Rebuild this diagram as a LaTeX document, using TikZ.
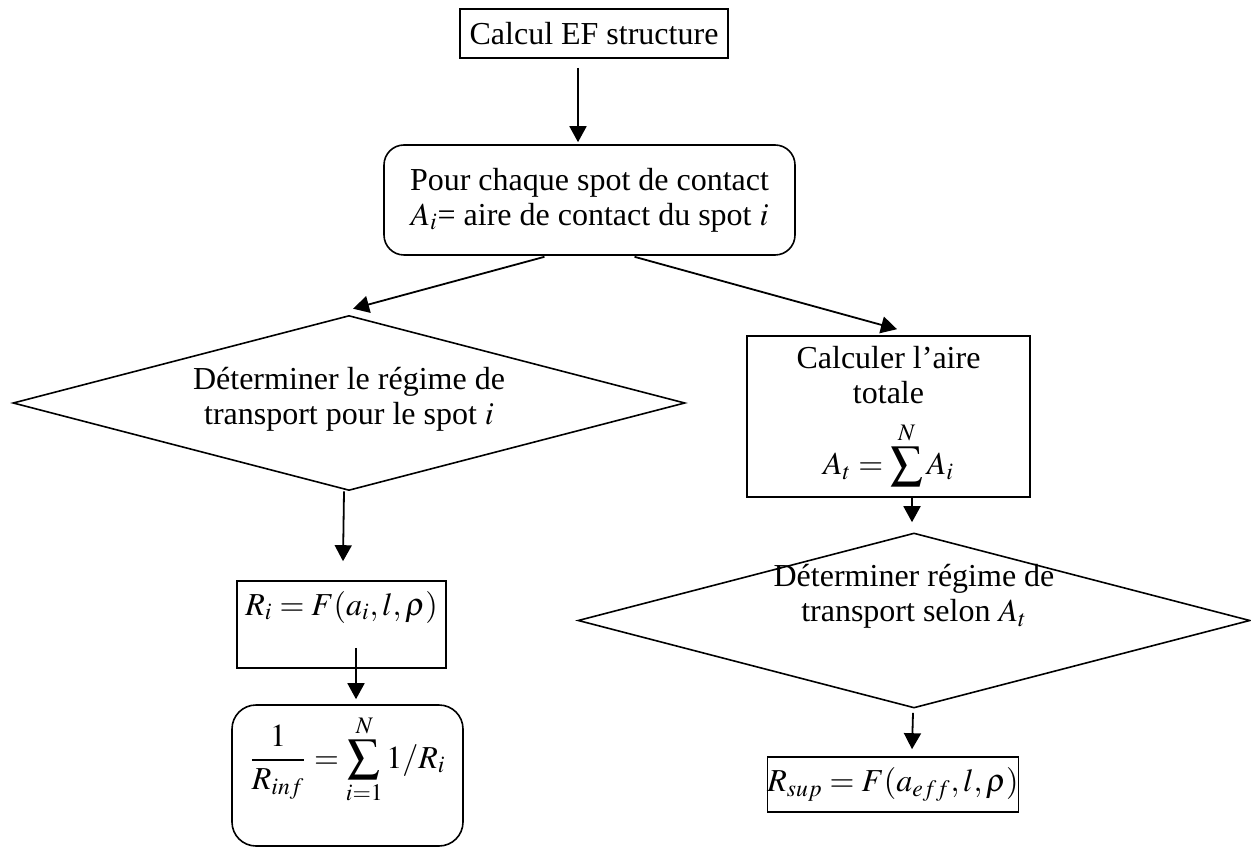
\documentclass[tikz,border=0pt]{standalone}
\usepackage{amsmath}
\usepackage{mathptmx}
\usepackage{fontspec}
\setmainfont{Liberation Serif}
\usetikzlibrary{arrows.meta,shapes.geometric,calc}

\begin{document}
\begin{tikzpicture}[
    x=0.5pt, y=-0.5pt,
    box/.style={draw, line width=0.8pt, inner sep=0pt, align=center,
                font=\fontsize{16}{17.5}\selectfont},
    rbox/.style={box, rounded corners=10pt},
    decide/.style={draw, diamond, line width=0.8pt, aspect=3.84, inner sep=0pt,
                   minimum width=336pt, minimum height=87.5pt},
    txt/.style={align=center, font=\fontsize{16}{17.5}\selectfont},
    arrow/.style={-{Triangle[length=8pt,width=8.5pt]}, line width=0.9pt}
  ]
    \useasboundingbox (0,0) rectangle (1251,849);
    \node[box, minimum width=134pt, minimum height=24.5pt] (calc) at (594,33.5) {Calcul EF structure};
    \node[rbox, minimum width=205.5pt, minimum height=55pt] (pour) at (589.5,200)
      {Pour chaque spot de contact\\$A_i$= aire de contact du spot $i$};
    \node[decide] (regime1) at (349,403) {};
    \node[txt] (regime1txt) at (349,399) {Déterminer le régime de\\transport pour le spot $i$};
    \node[box, minimum width=104.5pt, minimum height=43.5pt, text height=12pt, text depth=21.5pt]
      (ri) at (341.5,624.5) {$R_i = F(a_i, l, \rho)$};
    \node[rbox, rounded corners=12pt, minimum width=115.5pt, minimum height=70.5pt,
          text height=20.5pt, text depth=28pt] (somme) at (347.5,775.5)
      {$\displaystyle \frac{1}{R_{inf}} = \sum_{i=1}^{N} 1/R_i$};
    \node[box, minimum width=141.5pt, minimum height=80.5pt] (aire) at (888.5,416.5)
      {Calculer l’aire\\totale\\[8pt]$\displaystyle A_t=\sum^{N} A_i$};
    \node[decide] (regime2) at (914,620.5) {};
    \node[txt] (regime2txt) at (914,596) {Déterminer régime de\\transport selon $A_t$};
    \node[box, minimum width=119pt, minimum height=27.5pt] (rsup) at (893,784.5)
      {$R_{sup} = F(a_{eff}, l, \rho)$};
    % connectors
    \draw[arrow] ($(calc.south)+(-16,9)$) -- ($(pour.north)+(-11.5,-2)$);
    \draw[arrow] ($(pour.south)+(-45,1)$) -- ($(regime1.north)+(4,-6)$);
    \draw[arrow] ($(pour.south)+(45,1)$) -- ($(aire.north)+(8.5,-6)$);
    \draw[arrow] ($(regime1.south)+(-5,0)$) -- ($(ri.north)+(1.5,-19)$);
    \draw[arrow] ($(ri.south)+(14.5,-21)$) -- ($(somme.north)+(8.5,-5)$);
    \draw[arrow] ($(aire.south)+(23.5,0)$) -- ($(regime2.north)+(-2,-10)$);
    \draw[arrow] ($(regime2.south)+(-1,4)$) -- ($(rsup.north)+(19,-7)$);
  \end{tikzpicture}
\end{document}
